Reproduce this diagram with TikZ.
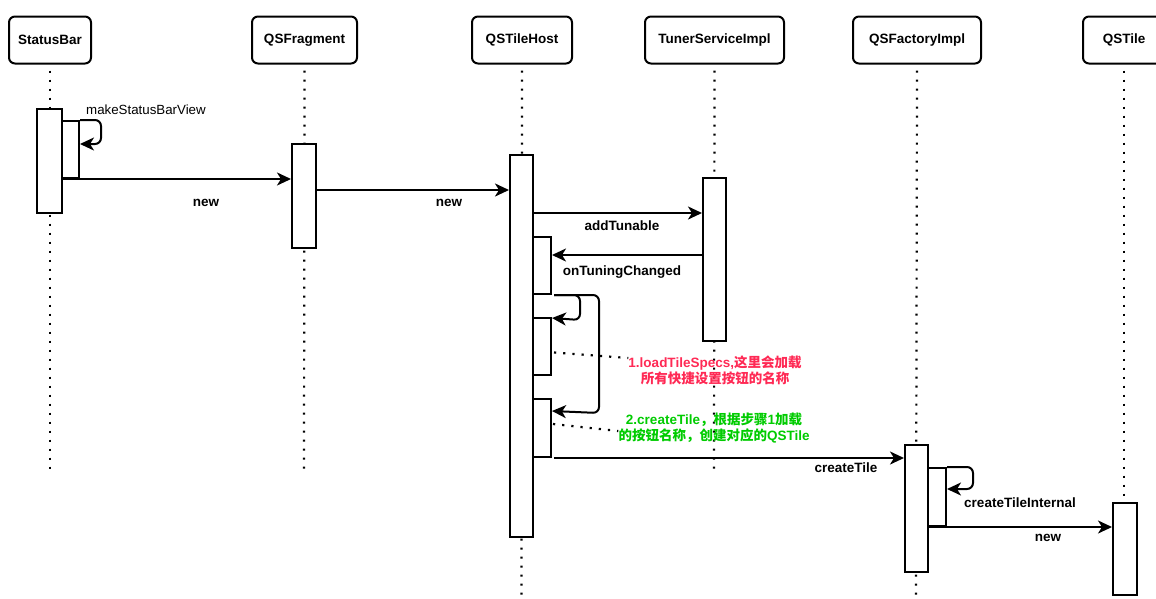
\documentclass[tikz,border=0pt]{standalone}
\usepackage{fontspec}
\setmainfont{Liberation Sans}
\newfontfamily\cjk{Noto Sans CJK SC}
\usetikzlibrary{arrows.meta,calc}
\definecolor{notered}{HTML}{FF2A55}
\definecolor{notegreen}{HTML}{00CC00}
\tikzset{
  head/.style={draw,line width=2pt,rounded corners=6pt,minimum height=47pt,font=\bfseries\fontsize{13.5}{15}\selectfont,inner sep=0pt},
  life/.style={line width=2.2pt,dash pattern=on 2.2pt off 6.8pt},
  act/.style={draw,fill=white,line width=2pt,inner sep=0pt},
  msg/.style={line width=2pt,-{Stealth[length=14pt,width=13pt,inset=4pt]}},
  lbl/.style={font=\bfseries\fontsize{13.5}{15}\selectfont,inner sep=0pt},
  notelink/.style={line width=2.2pt,dash pattern=on 2.2pt off 7pt},
  notetxt/.style={font=\bfseries\fontsize{13.5}{16}\selectfont,align=center,inner sep=0pt}
}
\begin{document}
\begin{tikzpicture}[x=1pt,y=-1pt]
\useasboundingbox[fill=white] (0,0) rectangle (1156,598);
% headers
\node[head,minimum width=82pt] (hsb) at (50,40) {StatusBar};
\node[head,minimum width=105pt] (hqf) at (304.5,40) {QSFragment};
\node[head,minimum width=100pt] (hqh) at (522,40) {QSTileHost};
\node[head,minimum width=139pt] (hts) at (714.5,40) {TunerServiceImpl};
\node[head,minimum width=128pt] (hfi) at (917,40) {QSFactoryImpl};
\node[head,minimum width=82pt] (hqt) at (1124,40) {QSTile};
% lifeline end points
\coordinate (esb) at (50,470);
\coordinate (eqf) at (304,470);
\coordinate (eqh) at (521.5,600);
\coordinate (ets) at (714,470);
\coordinate (efi) at (916,600);
\coordinate (eqt) at (1124,600);
\draw[life] ($(hsb.south)+(0,6)$) -- (esb);
\draw[life] ($(hqf.south)+(0,6)$) -- (eqf);
\draw[life] ($(hqh.south)+(0,6)$) -- (eqh);
\draw[life] ($(hts.south)+(0,6)$) -- (ets);
\draw[life] ($(hfi.south)+(0,6)$) -- (efi);
\draw[life] ($(hqt.south)+(0,6)$) -- (eqt);
% activations
\node[act,minimum width=25pt,minimum height=104pt] (sbA) at (49.5,161) {};
\node[act,minimum width=17pt,minimum height=57pt] (sbS) at (70.5,149.5) {};
\node[act,minimum width=24pt,minimum height=104pt] (qfA) at (304,196) {};
\node[act,minimum width=23pt,minimum height=382pt] (qhA) at (521.5,346) {};
\node[act,minimum width=23pt,minimum height=163pt] (tsA) at (714.5,259.5) {};
\node[act,minimum width=18pt,minimum height=57pt] (qh1) at (542,265.5) {};
\node[act,minimum width=18pt,minimum height=57pt] (qh2) at (542,346.5) {};
\node[act,minimum width=18pt,minimum height=58pt] (qh3) at (542,428) {};
\node[act,minimum width=23pt,minimum height=127pt] (fiA) at (916.5,508.5) {};
\node[act,minimum width=18pt,minimum height=58pt] (fiS) at (937,497) {};
\node[act,minimum width=24pt,minimum height=92pt] (qtA) at (1125,549) {};
% makeStatusBarView
\coordinate (mk1) at ($(sbS.north east)+(0,24)$);
\draw[msg,rounded corners=6pt] (sbS.north east) -- ++(21,0) -- ++(0,24) -- (mk1);
\node[anchor=west,font=\fontsize{13.3}{15}\selectfont,inner sep=0pt] (lmk) at (86,110) {makeStatusBarView};
% new 1
\draw[msg] (sbS.south west) -- (sbS.south west -| qfA.west);
\node[lbl] (lnew1) at (206,203) {new};
% new 2
\coordinate (n2s) at ($(qfA.east)+(0,-6)$);
\draw[msg] (n2s) -- (n2s -| qhA.west);
\node[lbl] (lnew2) at (449,203) {new};
% addTunable
\coordinate (at1) at (533,213);
\draw[msg] (at1 -| qhA.east) -- (at1 -| tsA.west);
\node[lbl] (ladd) at (622,226) {addTunable};
% onTuningChanged
\coordinate (ot1) at (551,255);
\draw[msg] (ot1 -| tsA.west) -- (ot1 -| qh1.east);
\node[lbl] (lotc) at (622,272) {onTuningChanged};
% self loops
\coordinate (lp0) at ($(qh1.south east)+(2,0)$);
\coordinate (lp1) at ($(qh2.north east)+(0,1)$);
\coordinate (lp2) at ($(qh3.north east)+(0,13)$);
\draw[msg,rounded corners=6pt] (lp0) -- ++(26,0) -- ++(0,25) -- (lp1);
\draw[msg,rounded corners=6pt] (lp0) -- ++(45,0) -- ++(0,118) -- (lp2);
% notes
\node[notetxt,text=notered] (n1) at (715,370) {1.loadTileSpecs,{\cjk\bfseries 这里会加载}\\{\cjk\bfseries 所有快捷设置按钮的名称}};
\node[notetxt,text=notegreen] (n2) at (714,428) {2.createTile{\cjk\bfseries ，根据步骤}1{\cjk\bfseries 加载}\\{\cjk\bfseries 的按钮名称，创建对应的}QSTile};
\coordinate (nl1) at ($(qh2.east)+(2,6)$);
\coordinate (nl2) at ($(qh3.east)+(1,-4)$);
\draw[notelink] (nl1) -- (n1.west |- 0,358);
\draw[notelink] (nl2) -- (n2.west |- 0,431);
% createTile
\coordinate (ct0) at ($(qh3.south east)+(2,0)$);
\draw[msg] (ct0) -- (ct0 -| fiA.west);
\node[lbl] (lct) at (846,468) {createTile};
% createTileInternal
\coordinate (ci1) at ($(fiS.north east)+(0,22)$);
\draw[msg,rounded corners=6pt] (fiS.north east) -- ++(26,0) -- ++(0,22) -- (ci1);
\node[lbl] (lcti) at (1020,503) {createTileInternal};
% new 3
\draw[msg] (fiS.south west) -- (fiS.south west -| qtA.west);
\node[lbl] (lnew3) at (1048,538) {new};
\end{tikzpicture}
\end{document}
